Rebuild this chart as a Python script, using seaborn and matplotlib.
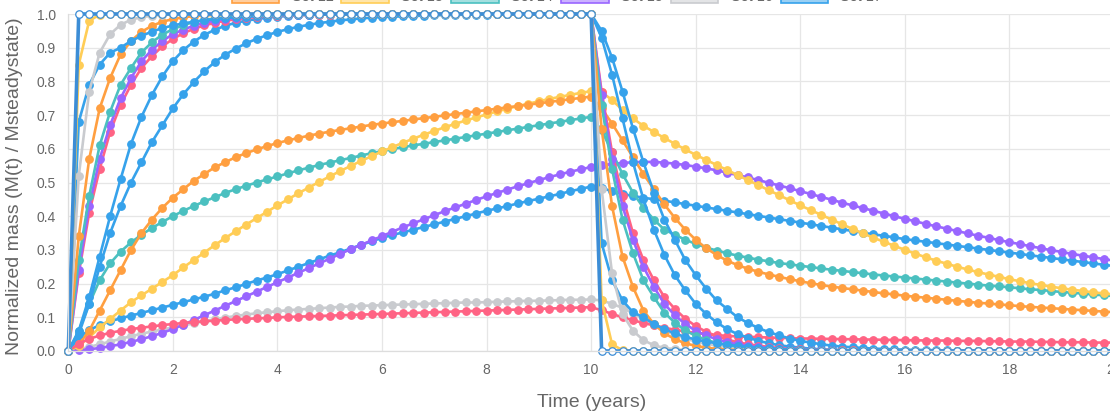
"""Normalized mass M(t)/Msteadystate: 10 years of loading, then removal (0-20 years)."""
import numpy as np
import pandas as pd
import matplotlib
matplotlib.use("Agg")
import matplotlib.pyplot as plt
from matplotlib.colors import to_rgba
from matplotlib.patches import Patch
import seaborn as sns

# sampling times in years (step 0.2)
time_years = np.round(np.linspace(0.0, 20.0, 101), 1)

# ---- values, one per time step (rows of 10 = 2 years) ----
blue_step = [
    0, 1, 1, 1, 1, 1, 1, 1, 1, 1,
    1, 1, 1, 1, 1, 1, 1, 1, 1, 1,
    1, 1, 1, 1, 1, 1, 1, 1, 1, 1,
    1, 1, 1, 1, 1, 1, 1, 1, 1, 1,
    1, 1, 1, 1, 1, 1, 1, 1, 1, 1,
    1, 0, 0, 0, 0, 0, 0, 0, 0, 0,
    0, 0, 0, 0, 0, 0, 0, 0, 0, 0,
    0, 0, 0, 0, 0, 0, 0, 0, 0, 0,
    0, 0, 0, 0, 0, 0, 0, 0, 0, 0,
    0, 0, 0, 0, 0, 0, 0, 0, 0, 0,
    0]
yellow_fast = [
    0, 0.85, 0.98, 0.998, 1, 1, 1, 1, 1, 1,
    1, 1, 1, 1, 1, 1, 1, 1, 1, 1,
    1, 1, 1, 1, 1, 1, 1, 1, 1, 1,
    1, 1, 1, 1, 1, 1, 1, 1, 1, 1,
    1, 1, 1, 1, 1, 1, 1, 1, 1, 1,
    1, 0.15, 0.02, 0.002, 0, 0, 0, 0, 0, 0,
    0, 0, 0, 0, 0, 0, 0, 0, 0, 0,
    0, 0, 0, 0, 0, 0, 0, 0, 0, 0,
    0, 0, 0, 0, 0, 0, 0, 0, 0, 0,
    0, 0, 0, 0, 0, 0, 0, 0, 0, 0,
    0]
grey_fast = [
    0, 0.52, 0.77, 0.885, 0.94, 0.968, 0.983, 0.991, 0.995, 0.997,
    0.999, 1, 1, 1, 1, 1, 1, 1, 1, 1,
    1, 1, 1, 1, 1, 1, 1, 1, 1, 1,
    1, 1, 1, 1, 1, 1, 1, 1, 1, 1,
    1, 1, 1, 1, 1, 1, 1, 1, 1, 1,
    1, 0.48, 0.23, 0.11, 0.06, 0.032, 0.017, 0.009, 0.005, 0.003,
    0.001, 0, 0, 0, 0, 0, 0, 0, 0, 0,
    0, 0, 0, 0, 0, 0, 0, 0, 0, 0,
    0, 0, 0, 0, 0, 0, 0, 0, 0, 0,
    0, 0, 0, 0, 0, 0, 0, 0, 0, 0,
    0]
blue_fast = [
    0, 0.68, 0.79, 0.85, 0.885, 0.90, 0.92, 0.935, 0.948, 0.958,
    0.966, 0.972, 0.977, 0.981, 0.985, 0.988, 0.99, 0.992, 0.994, 0.995,
    0.996, 0.997, 0.998, 0.998, 0.999, 0.999, 1, 1, 1, 1,
    1, 1, 1, 1, 1, 1, 1, 1, 1, 1,
    1, 1, 1, 1, 1, 1, 1, 1, 1, 1,
    1, 0.32, 0.21, 0.15, 0.115, 0.10, 0.08, 0.065, 0.052, 0.042,
    0.034, 0.028, 0.023, 0.019, 0.015, 0.012, 0.01, 0.008, 0.006, 0.005,
    0.004, 0.003, 0.002, 0.002, 0.001, 0.001, 0, 0, 0, 0,
    0, 0, 0, 0, 0, 0, 0, 0, 0, 0,
    0, 0, 0, 0, 0, 0, 0, 0, 0, 0,
    0]
orange_fast = [
    0, 0.34, 0.57, 0.72, 0.81, 0.88, 0.92, 0.947, 0.965, 0.977,
    0.985, 0.99, 0.994, 0.996, 0.997, 0.998, 0.999, 0.999, 1, 1,
    1, 1, 1, 1, 1, 1, 1, 1, 1, 1,
    1, 1, 1, 1, 1, 1, 1, 1, 1, 1,
    1, 1, 1, 1, 1, 1, 1, 1, 1, 1,
    1, 0.66, 0.43, 0.28, 0.19, 0.12, 0.08, 0.053, 0.035, 0.023,
    0.015, 0.01, 0.006, 0.004, 0.003, 0.002, 0.001, 0.001, 0, 0,
    0, 0, 0, 0, 0, 0, 0, 0, 0, 0,
    0, 0, 0, 0, 0, 0, 0, 0, 0, 0,
    0, 0, 0, 0, 0, 0, 0, 0, 0, 0,
    0]
teal_fast = [
    0, 0.27, 0.46, 0.61, 0.71, 0.79, 0.84, 0.886, 0.916, 0.939,
    0.955, 0.967, 0.976, 0.982, 0.987, 0.99, 0.993, 0.995, 0.996, 0.997,
    0.998, 0.999, 0.999, 1, 1, 1, 1, 1, 1, 1,
    1, 1, 1, 1, 1, 1, 1, 1, 1, 1,
    1, 1, 1, 1, 1, 1, 1, 1, 1, 1,
    1, 0.73, 0.54, 0.39, 0.29, 0.21, 0.16, 0.114, 0.084, 0.061,
    0.045, 0.033, 0.024, 0.018, 0.013, 0.01, 0.007, 0.005, 0.004, 0.003,
    0.002, 0.001, 0.001, 0, 0, 0, 0, 0, 0, 0,
    0, 0, 0, 0, 0, 0, 0, 0, 0, 0,
    0, 0, 0, 0, 0, 0, 0, 0, 0, 0,
    0]
purple_fast = [
    0, 0.24, 0.43, 0.57, 0.67, 0.75, 0.81, 0.86, 0.894, 0.92,
    0.94, 0.954, 0.965, 0.974, 0.98, 0.985, 0.989, 0.991, 0.994, 0.995,
    0.996, 0.997, 0.998, 0.998, 0.999, 0.999, 1, 1, 1, 1,
    1, 1, 1, 1, 1, 1, 1, 1, 1, 1,
    1, 1, 1, 1, 1, 1, 1, 1, 1, 1,
    1, 0.76, 0.57, 0.43, 0.33, 0.25, 0.19, 0.14, 0.106, 0.08,
    0.06, 0.046, 0.035, 0.026, 0.02, 0.015, 0.011, 0.009, 0.006, 0.005,
    0.004, 0.003, 0.002, 0.002, 0.001, 0.001, 0, 0, 0, 0,
    0, 0, 0, 0, 0, 0, 0, 0, 0, 0,
    0, 0, 0, 0, 0, 0, 0, 0, 0, 0,
    0]
pink_fast = [
    0, 0.23, 0.41, 0.54, 0.65, 0.73, 0.79, 0.84, 0.875, 0.904,
    0.926, 0.943, 0.956, 0.966, 0.974, 0.98, 0.984, 0.988, 0.991, 0.993,
    0.994, 0.996, 0.997, 0.997, 0.998, 0.998, 0.999, 0.999, 1, 1,
    1, 1, 1, 1, 1, 1, 1, 1, 1, 1,
    1, 1, 1, 1, 1, 1, 1, 1, 1, 1,
    1, 0.77, 0.59, 0.46, 0.35, 0.27, 0.21, 0.16, 0.125, 0.096,
    0.074, 0.057, 0.044, 0.034, 0.026, 0.02, 0.016, 0.012, 0.009, 0.007,
    0.006, 0.004, 0.003, 0.003, 0.002, 0.002, 0.001, 0.001, 0, 0,
    0, 0, 0, 0, 0, 0, 0, 0, 0, 0,
    0, 0, 0, 0, 0, 0, 0, 0, 0, 0,
    0]
blue_mid = [
    0, 0.06, 0.16, 0.28, 0.40, 0.51, 0.615, 0.695, 0.76, 0.815,
    0.86, 0.893, 0.918, 0.938, 0.953, 0.965, 0.974, 0.98, 0.985, 0.989,
    0.992, 0.994, 0.996, 0.997, 0.998, 0.998, 0.999, 0.999, 1, 1,
    1, 1, 1, 1, 1, 1, 1, 1, 1, 1,
    1, 1, 1, 1, 1, 1, 1, 1, 1, 1,
    1, 0.93, 0.82, 0.69, 0.56, 0.45, 0.36, 0.285, 0.225, 0.18,
    0.14, 0.11, 0.085, 0.065, 0.05, 0.04, 0.03, 0.023, 0.017, 0.013,
    0.01, 0.007, 0.005, 0.004, 0.003, 0.002, 0.001, 0.001, 0, 0,
    0, 0, 0, 0, 0, 0, 0, 0, 0, 0,
    0, 0, 0, 0, 0, 0, 0, 0, 0, 0,
    0]
blue_late = [
    0, 0.05, 0.14, 0.25, 0.35, 0.43, 0.50, 0.56, 0.62, 0.67,
    0.72, 0.762, 0.798, 0.83, 0.857, 0.879, 0.897, 0.913, 0.926, 0.937,
    0.947, 0.955, 0.962, 0.968, 0.973, 0.977, 0.981, 0.984, 0.987, 0.989,
    0.991, 0.992, 0.993, 0.994, 0.995, 0.996, 0.997, 0.997, 0.998, 0.998,
    0.998, 0.999, 0.999, 0.999, 0.999, 1, 1, 1, 1, 1,
    1, 0.95, 0.87, 0.77, 0.66, 0.56, 0.47, 0.39, 0.33, 0.27,
    0.225, 0.185, 0.15, 0.125, 0.10, 0.083, 0.068, 0.056, 0.046, 0.037,
    0.03, 0.025, 0.02, 0.016, 0.013, 0.011, 0.009, 0.007, 0.006, 0.005,
    0.004, 0.003, 0.003, 0.002, 0.002, 0.001, 0.001, 0, 0, 0,
    0, 0, 0, 0, 0, 0, 0, 0, 0, 0,
    0]
pink_low = [
    0, 0.022, 0.036, 0.046, 0.054, 0.06, 0.065, 0.069, 0.073, 0.077,
    0.08, 0.083, 0.086, 0.088, 0.09, 0.092, 0.094, 0.095, 0.097, 0.098,
    0.1, 0.101, 0.102, 0.103, 0.104, 0.105, 0.106, 0.107, 0.108, 0.109,
    0.11, 0.111, 0.112, 0.113, 0.114, 0.115, 0.116, 0.117, 0.118, 0.119,
    0.12, 0.121, 0.122, 0.123, 0.124, 0.125, 0.126, 0.127, 0.128, 0.129,
    0.13, 0.121, 0.11, 0.1, 0.091, 0.083, 0.076, 0.069, 0.063, 0.058,
    0.054, 0.05, 0.047, 0.045, 0.043, 0.042, 0.041, 0.04, 0.039, 0.038,
    0.037, 0.037, 0.036, 0.036, 0.035, 0.035, 0.034, 0.034, 0.033, 0.033,
    0.032, 0.032, 0.031, 0.031, 0.031, 0.03, 0.03, 0.03, 0.029, 0.029,
    0.028, 0.028, 0.028, 0.027, 0.027, 0.026, 0.026, 0.026, 0.025, 0.025,
    0.025]
orange_slow = [
    0, 0.02, 0.06, 0.12, 0.18, 0.24, 0.30, 0.35, 0.39, 0.425,
    0.455, 0.48, 0.505, 0.525, 0.545, 0.56, 0.575, 0.587, 0.598, 0.608,
    0.617, 0.625, 0.632, 0.639, 0.645, 0.651, 0.656, 0.661, 0.666, 0.671,
    0.675, 0.679, 0.683, 0.687, 0.691, 0.695, 0.699, 0.703, 0.707, 0.711,
    0.715, 0.719, 0.723, 0.727, 0.731, 0.735, 0.739, 0.743, 0.747, 0.751,
    0.755, 0.72, 0.675, 0.625, 0.575, 0.525, 0.48, 0.435, 0.395, 0.36,
    0.33, 0.305, 0.285, 0.268, 0.255, 0.244, 0.235, 0.227, 0.22, 0.213,
    0.207, 0.201, 0.196, 0.191, 0.187, 0.183, 0.179, 0.175, 0.171, 0.168,
    0.164, 0.161, 0.158, 0.155, 0.152, 0.149, 0.146, 0.143, 0.141, 0.138,
    0.136, 0.133, 0.131, 0.129, 0.127, 0.125, 0.123, 0.121, 0.119, 0.117,
    0.115]
yellow_slow = [
    0, 0.015, 0.04, 0.07, 0.095, 0.12, 0.145, 0.165, 0.185, 0.205,
    0.225, 0.248, 0.27, 0.292, 0.314, 0.335, 0.355, 0.375, 0.394, 0.413,
    0.432, 0.45, 0.468, 0.485, 0.502, 0.518, 0.534, 0.549, 0.564, 0.578,
    0.592, 0.605, 0.618, 0.63, 0.642, 0.653, 0.664, 0.674, 0.684, 0.693,
    0.702, 0.711, 0.719, 0.727, 0.734, 0.741, 0.748, 0.754, 0.76, 0.766,
    0.771, 0.768, 0.745, 0.715, 0.69, 0.668, 0.65, 0.632, 0.615, 0.598,
    0.582, 0.567, 0.552, 0.537, 0.522, 0.507, 0.492, 0.477, 0.462, 0.447,
    0.432, 0.418, 0.404, 0.39, 0.376, 0.362, 0.349, 0.336, 0.324, 0.312,
    0.3, 0.289, 0.278, 0.268, 0.259, 0.25, 0.242, 0.234, 0.227, 0.22,
    0.213, 0.207, 0.201, 0.196, 0.191, 0.186, 0.182, 0.178, 0.174, 0.171,
    0.168]
teal_slow = [
    0, 0.06, 0.14, 0.21, 0.26, 0.295, 0.322, 0.345, 0.365, 0.383,
    0.40, 0.416, 0.43, 0.444, 0.456, 0.469, 0.48, 0.49, 0.50, 0.509,
    0.518, 0.527, 0.536, 0.544, 0.552, 0.559, 0.566, 0.573, 0.58, 0.587,
    0.593, 0.599, 0.605, 0.61, 0.615, 0.62, 0.625, 0.63, 0.635, 0.64,
    0.645, 0.65, 0.655, 0.66, 0.665, 0.67, 0.675, 0.68, 0.685, 0.69,
    0.695, 0.655, 0.59, 0.525, 0.47, 0.425, 0.39, 0.36, 0.345, 0.33,
    0.318, 0.307, 0.298, 0.29, 0.283, 0.277, 0.271, 0.266, 0.261, 0.257,
    0.253, 0.249, 0.245, 0.241, 0.238, 0.234, 0.231, 0.227, 0.224, 0.221,
    0.218, 0.215, 0.212, 0.209, 0.206, 0.203, 0.2, 0.197, 0.194, 0.192,
    0.189, 0.186, 0.183, 0.181, 0.178, 0.175, 0.173, 0.17, 0.168, 0.165,
    0.163]
purple_slow = [
    0, 0.002, 0.005, 0.009, 0.014, 0.02, 0.027, 0.035, 0.044, 0.054,
    0.065, 0.078, 0.092, 0.106, 0.12, 0.134, 0.148, 0.162, 0.176, 0.19,
    0.204, 0.218, 0.232, 0.246, 0.26, 0.274, 0.288, 0.302, 0.315, 0.328,
    0.341, 0.354, 0.367, 0.379, 0.391, 0.403, 0.415, 0.426, 0.437, 0.448,
    0.459, 0.469, 0.479, 0.489, 0.498, 0.507, 0.516, 0.524, 0.532, 0.539,
    0.546, 0.551, 0.555, 0.558, 0.56, 0.561, 0.561, 0.559, 0.556, 0.552,
    0.547, 0.542, 0.536, 0.529, 0.522, 0.515, 0.507, 0.499, 0.491, 0.483,
    0.474, 0.466, 0.457, 0.449, 0.44, 0.432, 0.424, 0.416, 0.408, 0.4,
    0.392, 0.385, 0.377, 0.37, 0.363, 0.356, 0.349, 0.342, 0.336, 0.329,
    0.323, 0.317, 0.311, 0.305, 0.299, 0.294, 0.288, 0.283, 0.278, 0.273,
    0.268]
grey_low = [
    0, 0.005, 0.012, 0.02, 0.028, 0.036, 0.044, 0.051, 0.058, 0.064,
    0.07, 0.076, 0.082, 0.088, 0.094, 0.099, 0.104, 0.108, 0.112, 0.115,
    0.118, 0.121, 0.123, 0.125, 0.127, 0.129, 0.131, 0.132, 0.134, 0.135,
    0.136, 0.137, 0.138, 0.139, 0.14, 0.141, 0.142, 0.143, 0.144, 0.144,
    0.145, 0.146, 0.147, 0.148, 0.149, 0.149, 0.15, 0.151, 0.152, 0.152,
    0.153, 0.15, 0.14, 0.128, 0.112, 0.094, 0.077, 0.061, 0.048, 0.037,
    0.028, 0.021, 0.016, 0.012, 0.009, 0.006, 0.005, 0.003, 0.002, 0.002,
    0.001, 0.001, 0, 0, 0, 0, 0, 0, 0, 0,
    0, 0, 0, 0, 0, 0, 0, 0, 0, 0,
    0, 0, 0, 0, 0, 0, 0, 0, 0, 0,
    0]
blue_slow = [
    0, 0.04, 0.062, 0.077, 0.088, 0.097, 0.105, 0.113, 0.121, 0.129,
    0.137, 0.145, 0.153, 0.161, 0.17, 0.18, 0.189, 0.199, 0.209, 0.218,
    0.228, 0.239, 0.25, 0.261, 0.272, 0.283, 0.293, 0.304, 0.315, 0.325,
    0.336, 0.344, 0.352, 0.36, 0.368, 0.376, 0.384, 0.392, 0.4, 0.408,
    0.416, 0.423, 0.43, 0.438, 0.445, 0.452, 0.459, 0.466, 0.474, 0.481,
    0.488, 0.484, 0.474, 0.466, 0.46, 0.455, 0.45, 0.446, 0.441, 0.436,
    0.431, 0.426, 0.421, 0.416, 0.411, 0.406, 0.401, 0.396, 0.391, 0.386,
    0.381, 0.376, 0.371, 0.366, 0.361, 0.356, 0.351, 0.346, 0.342, 0.337,
    0.332, 0.328, 0.324, 0.32, 0.316, 0.312, 0.308, 0.304, 0.3, 0.296,
    0.292, 0.288, 0.284, 0.28, 0.276, 0.272, 0.268, 0.264, 0.26, 0.256,
    0.252]

# dataset order (first one is drawn on top, like the original chart)
series_values = [blue_step, yellow_fast, grey_fast, blue_fast, orange_fast,
                 teal_fast, purple_fast, pink_fast, blue_mid, blue_late,
                 pink_low, orange_slow, yellow_slow, teal_slow, purple_slow,
                 grey_low, blue_slow]
series_names = [f"Set {i + 1}" for i in range(len(series_values))]
series_colors = ["blue", "yellow", "grey", "blue", "orange", "teal", "purple",
                 "pink", "blue", "blue", "pink", "orange", "yellow", "teal",
                 "purple", "grey", "blue"]

PALETTE = {
    "blue": "#36A2EB", "pink": "#FF6384", "orange": "#FF9F40",
    "yellow": "#FFCD56", "teal": "#4BC0C0", "purple": "#9966FF",
    "grey": "#C9CBCF",
}
STEP_BLUE = "#3C8DD6"
TEXT = "#666666"
GRID = "#E6E6E6"

for vals in series_values:
    assert len(vals) == len(time_years), len(vals)

df = pd.concat([
    pd.DataFrame({"time": time_years, "mass": vals, "series": name})
    for name, vals in zip(series_names, series_values)
], ignore_index=True)

sns.set_theme(style="whitegrid")
plt.rcParams["font.family"] = ["Liberation Sans", "DejaVu Sans"]

W, H = 1110, 417
fig = plt.figure(figsize=(W / 100, H / 100), dpi=100)
ax = fig.add_axes([68.3 / W, 66 / H, 1045.7 / W, 337 / H])
ax.set_facecolor("white")

# draw last dataset first so that the first one ends up on top
for name, cname in reversed(list(zip(series_names, series_colors))):
    c = PALETTE[cname]
    top = name == series_names[0]
    sns.lineplot(
        data=df[df["series"] == name], x="time", y="mass", ax=ax,
        estimator=None, errorbar=None, legend=False,
        color=STEP_BLUE if top else c,
        linewidth=2.6 if top else 1.9,
        marker="o", markersize=5.4,
        markerfacecolor="white" if top else c,
        markeredgecolor=STEP_BLUE if top else c,
        markeredgewidth=0.9, clip_on=False,
    )

ax.set_xlim(0, 20)
ax.set_ylim(0, 1)
ax.set_xticks(np.arange(0, 21, 2))
ax.set_yticks(np.round(np.arange(0, 1.01, 0.1), 1))
ax.set_yticklabels([f"{v:.1f}" for v in np.round(np.arange(0, 1.01, 0.1), 1)])
ax.grid(True, color=GRID, linewidth=0.9)
ax.tick_params(length=7, width=0.9, color=GRID, pad=2, labelsize=10,
               labelcolor=TEXT)
for side in ("top", "right"):
    ax.spines[side].set_visible(False)
for side in ("left", "bottom"):
    ax.spines[side].set_color("#DDDDDD")
    ax.spines[side].set_linewidth(0.9)

ax.set_xlabel("Time (years)", fontsize=14, color=TEXT, va="center")
ax.set_ylabel("Normalized mass (M(t) / Msteadystate)", fontsize=14,
              color=TEXT, va="center")
ax.xaxis.set_label_coords(0.5, -0.154)
ax.yaxis.set_label_coords(-0.051, 0.49)

# legend: only its last row shows at the top edge of the picture
handles = [Patch(facecolor=to_rgba(PALETTE[c], 0.5), edgecolor=PALETTE[c],
                 linewidth=1.2) for c in series_colors[-6:]]
fig.legend(handles, series_names[-6:], loc="center",
           bbox_to_anchor=(557 / W, 1 + 3 / H), ncol=6, frameon=False,
           fontsize=10.4, handlelength=3.3, handleheight=1.0,
           handletextpad=0.85, columnspacing=0.55, labelcolor=TEXT,
           borderpad=0, borderaxespad=0)

fig.savefig("out.png", dpi=100)
